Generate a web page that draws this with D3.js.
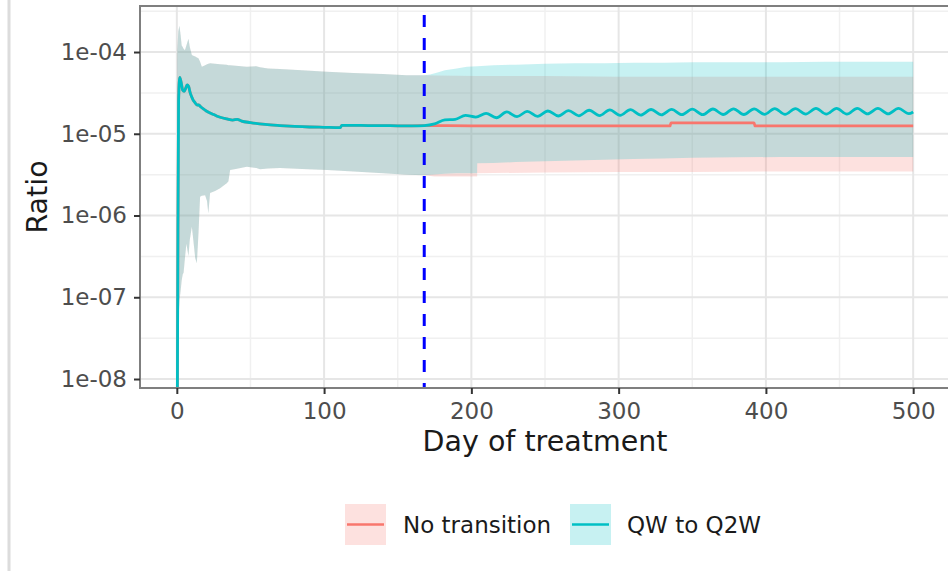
<!DOCTYPE html>
<html>
<head>
<meta charset="utf-8">
<script src="https://cdn.jsdelivr.net/npm/d3@7"></script>
<style>
  body { margin: 0; background: #fff; }
  svg { display: block; }
  text { font-family: "DejaVu Sans", sans-serif; }
</style>
</head>
<body>
<svg id="chart" width="948" height="571"></svg>
<script>
// ---- Common course (both regimens identical until the switch day) ----
const sharedLineDay = [0, 0.6, 1.2, 2, 3, 4, 5, 6, 7, 8, 9, 10, 11, 12, 14, 15, 16, 18, 20, 22,
  24, 27, 30, 34, 38, 41, 44, 50, 60, 70, 80, 90, 100, 111, 112, 120, 130, 140, 150, 160, 168];
const sharedMedian = [1e-10, 1e-7, 2.5e-5, 4.9e-5, 4.2e-5, 3.4e-5, 3.3e-5, 3.6e-5, 3.95e-5, 3.8e-5,
  3.2e-5, 2.85e-5, 2.6e-5, 2.45e-5, 2.25e-5, 2.25e-5, 2.15e-5, 2.02e-5, 1.9e-5, 1.82e-5,
  1.75e-5, 1.65e-5, 1.58e-5, 1.52e-5, 1.47e-5, 1.5e-5, 1.43e-5, 1.37e-5, 1.3e-5, 1.26e-5,
  1.23e-5, 1.21e-5, 1.2e-5, 1.19e-5, 1.27e-5, 1.27e-5, 1.26e-5, 1.26e-5, 1.25e-5, 1.25e-5, 1.26e-5];

const sharedBandDay = [0, 0.3, 1, 1.8, 2.6, 3.3, 4, 4.6, 5.5, 6.5, 7.9, 8.8, 10.2, 11.2, 12.5, 13.6,
  14.7, 15.8, 17, 19.2, 20.5, 21.4, 22.6, 26, 29.4, 33.9, 35, 36.2, 40, 47.5, 54, 56.5, 62, 70,
  85, 102, 120, 140, 156, 168];
const sharedUpper = [1e-10, 1e-4, 1.8e-4, 2.1e-4, 1.6e-4, 1.2e-4, 1.15e-4, 1.1e-4, 1.05e-4, 1.2e-4,
  1.45e-4, 1.15e-4, 9.2e-5, 9.0e-5, 8.8e-5, 8.6e-5, 8.4e-5, 7.6e-5, 6.6e-5, 6.9e-5, 7.1e-5, 7.2e-5,
  7.3e-5, 7.2e-5, 7.1e-5, 7.0e-5, 6.9e-5, 6.9e-5, 6.8e-5, 6.6e-5, 6.7e-5, 6.5e-5, 6.3e-5, 6.2e-5,
  6.0e-5, 5.75e-5, 5.55e-5, 5.4e-5, 5.2e-5, 5.2e-5];
const sharedLower = [1e-10, 1e-10, 5e-8, 9e-8, 1.2e-7, 1.6e-7, 1.9e-7, 2.0e-7, 3e-7, 4.5e-7,
  3.2e-7, 5e-7, 7.3e-7, 5e-7, 3e-7, 2.6e-7, 6e-7, 1.7e-6, 1.75e-6, 1.77e-6, 1.5e-6, 1.06e-6,
  1.88e-6, 2.0e-6, 2.15e-6, 2.48e-6, 2.6e-6, 3.6e-6, 3.7e-6, 3.95e-6, 3.8e-6, 3.67e-6, 3.75e-6,
  3.8e-6, 3.7e-6, 3.6e-6, 3.45e-6, 3.3e-6, 3.15e-6, 3.1e-6];

// ---- After the switch: QW to Q2W ----
const q2wDay = [168, 175, 182, 189, 196, 203, 210, 217, 224, 231, 238, 245, 252, 259, 266, 273,
  280, 287, 294, 301, 308, 315, 322, 329, 336, 343, 350, 357, 364, 371, 378, 385, 392, 399, 406,
  413, 420, 427, 434, 441, 448, 455, 462, 469, 476, 483, 490, 497, 500];
const q2wMedian = [1.26e-5, 1.32e-5, 1.48e-5, 1.5e-5, 1.68e-5, 1.6e-5, 1.78e-5, 1.57e-5, 1.85e-5,
  1.62e-5, 1.88e-5, 1.63e-5, 1.9e-5, 1.65e-5, 1.92e-5, 1.66e-5, 1.94e-5, 1.67e-5, 1.96e-5, 1.68e-5,
  1.97e-5, 1.69e-5, 1.98e-5, 1.7e-5, 1.99e-5, 1.71e-5, 2.0e-5, 1.71e-5, 2.01e-5, 1.72e-5, 2.02e-5,
  1.72e-5, 2.02e-5, 1.73e-5, 2.03e-5, 1.73e-5, 2.03e-5, 1.74e-5, 2.04e-5, 1.74e-5, 2.04e-5,
  1.74e-5, 2.05e-5, 1.75e-5, 2.05e-5, 1.75e-5, 2.05e-5, 1.76e-5, 1.85e-5];
const q2wBandDay = [168, 172, 177, 182, 190, 197, 203.9, 204, 215, 230, 250, 270, 290, 310, 330,
  350, 380, 410, 440, 470, 500];
const q2wUpper = [5.2e-5, 5.3e-5, 5.6e-5, 6.0e-5, 6.3e-5, 6.6e-5, 6.7e-5, 6.7e-5, 6.9e-5, 7.0e-5,
  7.2e-5, 7.3e-5, 7.3e-5, 7.4e-5, 7.4e-5, 7.5e-5, 7.5e-5, 7.5e-5, 7.6e-5, 7.6e-5, 7.6e-5];
const q2wLower = [3.1e-6, 3.15e-6, 3.2e-6, 3.25e-6, 3.3e-6, 3.3e-6, 3.3e-6, 4.35e-6, 4.4e-6, 4.5e-6,
  4.6e-6, 4.7e-6, 4.8e-6, 4.9e-6, 5.0e-6, 5.1e-6, 5.15e-6, 5.2e-6, 5.2e-6, 5.2e-6, 5.2e-6];

// ---- After the switch: no transition ----
const noTransDay = [168, 200, 250, 300, 335, 335.5, 392, 392.5, 450, 500];
const noTransMedian = [1.26e-5, 1.25e-5, 1.25e-5, 1.25e-5, 1.25e-5, 1.36e-5, 1.36e-5, 1.25e-5,
  1.25e-5, 1.25e-5];
const noTransBandDay = [168, 175, 203.9, 204, 250, 300, 350, 400, 450, 500];
const noTransUpper = [5.2e-5, 5.15e-5, 5.1e-5, 5.1e-5, 5.1e-5, 5.0e-5, 5.0e-5, 5.0e-5, 5.0e-5, 5.0e-5];
const noTransLower = [3.1e-6, 3.0e-6, 3.0e-6, 3.3e-6, 3.35e-6, 3.4e-6, 3.4e-6, 3.45e-6, 3.45e-6, 3.45e-6];

const switchDay = 168;

const xTicks = [0, 100, 200, 300, 400, 500];
const yTicks = [1e-4, 1e-5, 1e-6, 1e-7, 1e-8];
const yTickLabels = ["1e-04", "1e-05", "1e-06", "1e-07", "1e-08"];

const seriesNames = ["No transition", "QW to Q2W"];
const seriesColors = ["#F8766D", "#00BFC4"];

// ---- Assemble series ----
function zipLine(days, vals) { return days.map((d, i) => ({ day: d, v: vals[i] })); }
function zipBand(days, lo, hi) { return days.map((d, i) => ({ day: d, lo: lo[i], hi: hi[i] })); }

const sharedLine = zipLine(sharedLineDay, sharedMedian);
const sharedBand = zipBand(sharedBandDay, sharedLower, sharedUpper);

const series = [
  {
    name: seriesNames[0], color: seriesColors[0],
    line: sharedLine.concat(zipLine(noTransDay, noTransMedian).slice(1)),
    band: sharedBand.concat(zipBand(noTransBandDay, noTransLower, noTransUpper).slice(1))
  },
  {
    name: seriesNames[1], color: seriesColors[1],
    line: sharedLine.concat(zipLine(q2wDay, q2wMedian).slice(1)),
    band: sharedBand.concat(zipBand(q2wBandDay, q2wLower, q2wUpper).slice(1))
  }
];

// ---- Layout ----
const W = 948, H = 571;
const panel = { left: 140, right: 950, top: 6, bottom: 388 };

const x = d3.scaleLinear().domain([-25, 525]).range([panel.left, panel.right]);
const y = d3.scaleLog().domain([Math.pow(10, -8.11), Math.pow(10, -3.437)])
  .range([panel.bottom, panel.top]);

const svg = d3.select("#chart");
svg.append("rect").attr("width", W).attr("height", H).attr("fill", "#fff");

// thin frame line on the far left
svg.append("rect").attr("x", 7.5).attr("y", 0).attr("width", 3).attr("height", H).attr("fill", "#dcdcdc");

svg.append("defs").append("clipPath").attr("id", "panel-clip")
  .append("rect")
  .attr("x", panel.left).attr("y", panel.top)
  .attr("width", panel.right - panel.left).attr("height", panel.bottom - panel.top);

// ---- Grid ----
const grid = svg.append("g");
const yMinor = d3.range(yTicks.length + 1).map(i => Math.pow(10, Math.log10(yTicks[0]) + 0.5 - i));
const xMinor = xTicks.slice(0, -1).map((d, i) => (d + xTicks[i + 1]) / 2);

grid.selectAll(".ymin").data(yMinor.filter(v => y(v) > panel.top && y(v) < panel.bottom)).join("line")
  .attr("x1", panel.left).attr("x2", panel.right)
  .attr("y1", d => y(d)).attr("y2", d => y(d))
  .attr("stroke", "#f0f0f0").attr("stroke-width", 1.5);
grid.selectAll(".xmin").data(xMinor).join("line")
  .attr("y1", panel.top).attr("y2", panel.bottom)
  .attr("x1", d => x(d)).attr("x2", d => x(d))
  .attr("stroke", "#f0f0f0").attr("stroke-width", 1.5);
grid.selectAll(".ymaj").data(yTicks).join("line")
  .attr("x1", panel.left).attr("x2", panel.right)
  .attr("y1", d => y(d)).attr("y2", d => y(d))
  .attr("stroke", "#e6e6e6").attr("stroke-width", 2);
grid.selectAll(".xmaj").data(xTicks).join("line")
  .attr("y1", panel.top).attr("y2", panel.bottom)
  .attr("x1", d => x(d)).attr("x2", d => x(d))
  .attr("stroke", "#e6e6e6").attr("stroke-width", 2);

// ---- Data layers ----
const plot = svg.append("g").attr("clip-path", "url(#panel-clip)");

const area = d3.area()
  .x(d => x(d.day))
  .y0(d => y(d.lo))
  .y1(d => y(d.hi))
  .curve(d3.curveLinear);

const line = d3.line()
  .x(d => x(d.day))
  .y(d => y(d.v))
  .curve(d3.curveMonotoneX);

series.forEach(s => {
  plot.append("path").datum(s.band)
    .attr("d", area)
    .attr("fill", s.color).attr("fill-opacity", 0.22);
});
series.forEach(s => {
  plot.append("path").datum(s.line)
    .attr("d", line)
    .attr("fill", "none")
    .attr("stroke", s.color).attr("stroke-width", 2.8)
    .attr("stroke-linejoin", "round");
});

// switch day marker
plot.append("line")
  .attr("x1", x(switchDay)).attr("x2", x(switchDay))
  .attr("y1", panel.top).attr("y2", panel.bottom)
  .attr("stroke", "#0000ff").attr("stroke-width", 3)
  .attr("stroke-dasharray", "12 11").attr("stroke-dashoffset", 14);

// ---- Panel border ----
svg.append("rect")
  .attr("x", panel.left).attr("y", panel.top)
  .attr("width", panel.right - panel.left).attr("height", panel.bottom - panel.top)
  .attr("fill", "none").attr("stroke", "#7f7f7f").attr("stroke-width", 2);

// ---- Axes ----
const yAxis = d3.axisLeft(y).tickValues(yTicks).tickFormat((d, i) => yTickLabels[i])
  .tickSize(6).tickPadding(7);
const gy = svg.append("g").attr("transform", `translate(${panel.left},0)`).call(yAxis);

const xAxis = d3.axisBottom(x).tickValues(xTicks).tickFormat(d3.format("d"))
  .tickSize(6).tickPadding(9);
const gx = svg.append("g").attr("transform", `translate(0,${panel.bottom})`).call(xAxis);

[gx, gy].forEach(g => {
  g.select(".domain").remove();
  g.selectAll(".tick line").attr("stroke", "#333").attr("stroke-width", 2);
  g.selectAll(".tick text")
    .attr("fill", "#4d4d4d")
    .style("font-family", '"DejaVu Sans", sans-serif')
    .style("font-size", "23px");
});

// axis titles
svg.append("text")
  .attr("x", (panel.left + panel.right) / 2).attr("y", 451)
  .attr("text-anchor", "middle")
  .style("font-size", "28.5px").attr("fill", "#1a1a1a")
  .text("Day of treatment");

svg.append("text")
  .attr("transform", `translate(46.5,${(panel.top + panel.bottom) / 2}) rotate(-90)`)
  .attr("text-anchor", "middle")
  .style("font-size", "28.5px").attr("fill", "#1a1a1a")
  .text("Ratio");

// ---- Legend ----
const legendItems = [
  { key: 345, text: 403 },
  { key: 570, text: 627 }
];
const legend = svg.append("g");
series.forEach((s, i) => {
  const it = legendItems[i];
  legend.append("rect")
    .attr("x", it.key).attr("y", 504).attr("width", 41).attr("height", 41)
    .attr("fill", s.color).attr("fill-opacity", 0.22);
  legend.append("line")
    .attr("x1", it.key + 2).attr("x2", it.key + 39)
    .attr("y1", 524.5).attr("y2", 524.5)
    .attr("stroke", s.color).attr("stroke-width", 2.6);
  legend.append("text")
    .attr("x", it.text).attr("y", 533)
    .style("font-size", "23px").attr("fill", "#1a1a1a")
    .text(s.name);
});
</script>
</body>
</html>
